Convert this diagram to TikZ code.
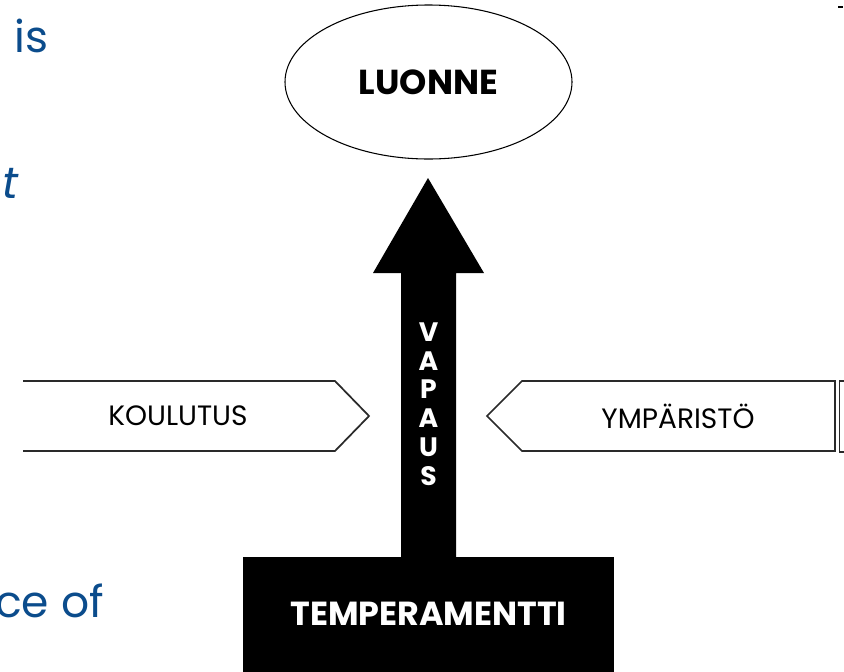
\documentclass[tikz,border=0pt]{standalone}
\usepackage{fontspec}
\usetikzlibrary{shapes.geometric}
\setmainfont{Poppins}
\newfontfamily\popfont{Poppins}
\definecolor{slideblue}{HTML}{0B4C8C}
\definecolor{edgegray}{HTML}{2A2A2A}
\begin{document}
\begin{tikzpicture}[x=0.75pt,y=-0.75pt,
  boxline/.style={draw=edgegray,line width=1.3pt,line join=miter},
  lbl/.style={font=\popfont\fontsize{21}{24}\selectfont,text=black},
  bigw/.style={font=\popfont\bfseries\fontsize{25}{28}\selectfont,text=white},
  bluetxt/.style={font=\popfont\fontsize{33}{38}\selectfont,text=slideblue,inner sep=0pt}]
\useasboundingbox (0,0) rectangle (844,672);
\clip (0,0) rectangle (844,672);
% blue slide text fragments
\node[bluetxt,anchor=base west] (t1) at (14,52) {is};
\node[bluetxt,anchor=base west] (t2) at (2,198) {\itshape t};
\node[bluetxt,anchor=base west] (t3) at (-5,617) {ce of};
% ellipse
\node[draw=black,line width=0.8pt,ellipse,minimum width=287*0.75pt,minimum height=154*0.75pt,inner sep=0pt,
      font=\popfont\bfseries\fontsize{26}{30}\selectfont] (luonne) at (428.5,82) {LUONNE};
% big arrow
\fill[black] (428,178) -- (484,273) -- (456,273) -- (456,558) -- (401,558) -- (401,273) -- (373,273) -- cycle;
\coordinate (tip) at (428,178);
% temperamentti block
\node[fill=black,minimum width=371*0.75pt,minimum height=120*0.75pt,inner sep=0pt,anchor=north west] (temp) at (243,557) {};
\node[bigw] (tempt) at (428.5,614) {TEMPERAMENTTI};
% vapaus
\node[font=\popfont\bfseries\fontsize{20}{21.6}\selectfont,text=white,align=center,inner sep=0pt] (vapaus) at (428.5,404) {V\\A\\P\\A\\U\\S};
% koulutus pentagon
\draw[boxline] (23,381) -- (335,381) -- (369,416) -- (335,451) -- (23,451);
\node[lbl] (koul) at (178,416) {KOULUTUS};
% ymparisto pentagon
\draw[boxline] (835,381) -- (522,381) -- (487,416) -- (522,451) -- (835,451) -- cycle;
\node[lbl] (ymp) at (678,416) {YMPÄRISTÖ};
% partial shape at right edge
\draw[boxline] (846,381) -- (839.5,381) -- (839.5,452) -- (846,452);
% small tick top right
\draw[line width=0.8pt] (838,7) -- (843,7);
\end{tikzpicture}
\end{document}
